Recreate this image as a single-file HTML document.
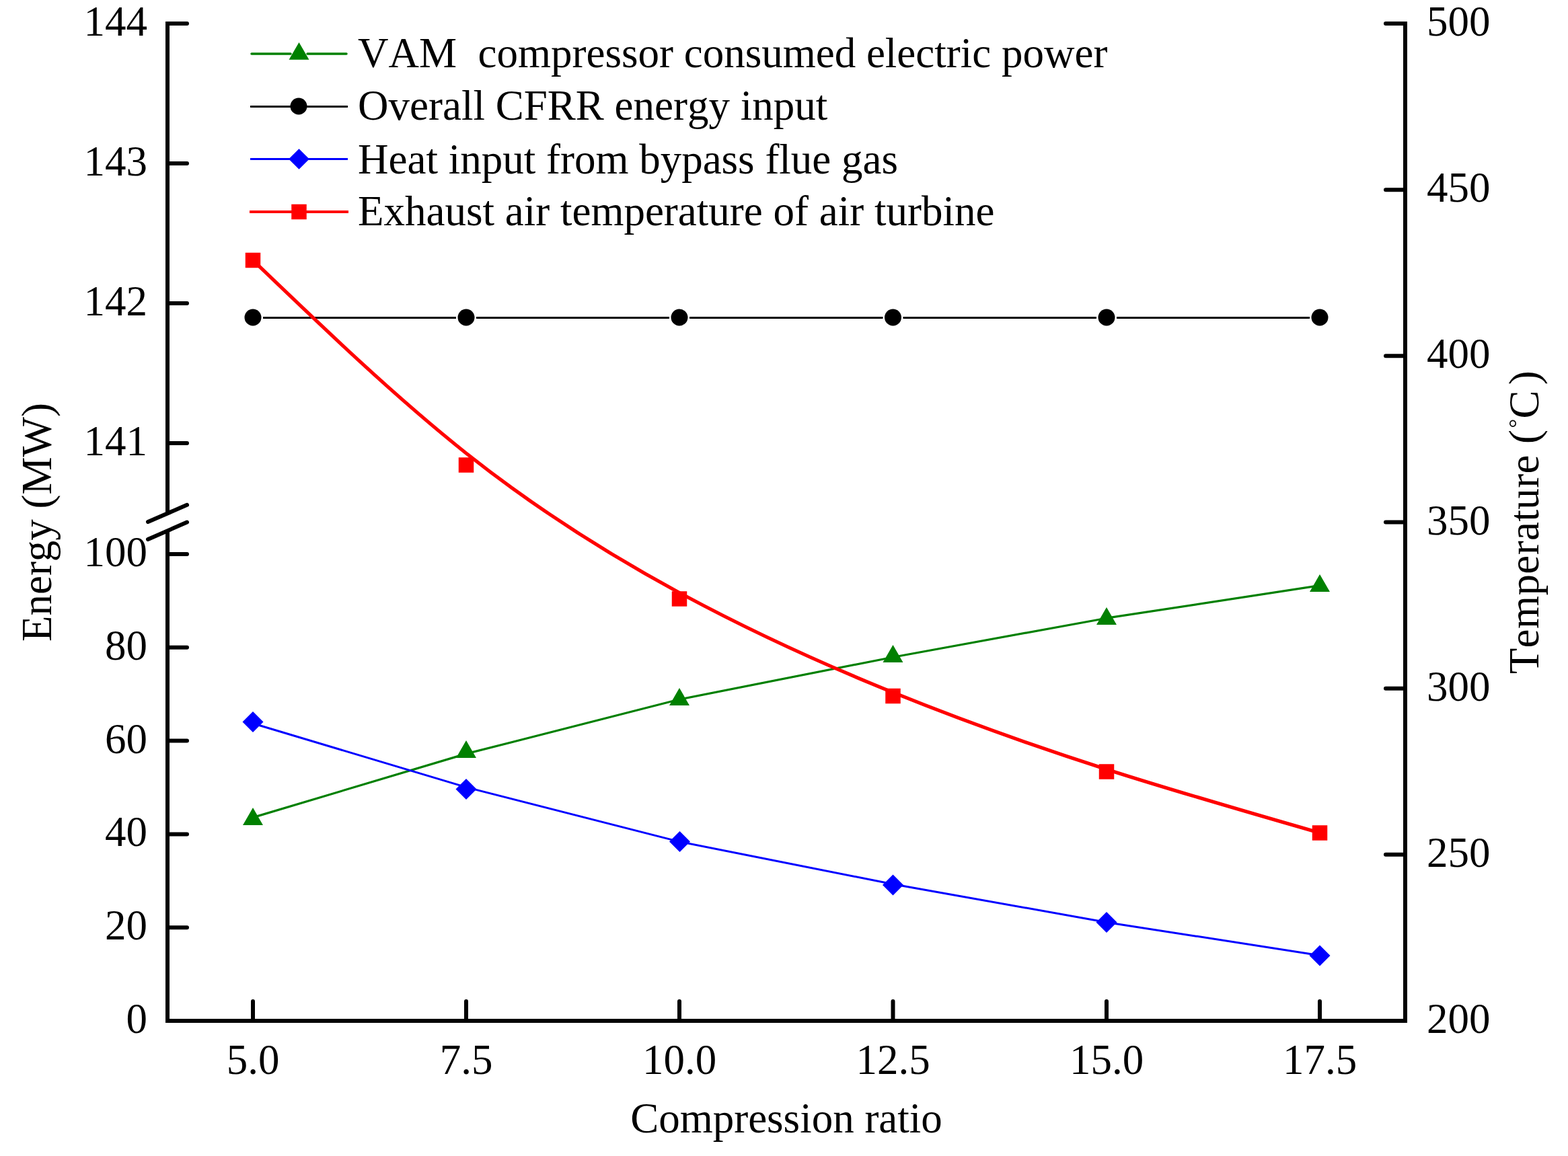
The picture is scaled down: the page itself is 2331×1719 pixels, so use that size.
<!DOCTYPE html>
<html><head><meta charset="utf-8"><title>Chart</title>
<style>html,body{margin:0;padding:0;background:#fff;}body{width:2331px;height:1719px;overflow:hidden;}svg{display:block;}</style>
</head><body>
<svg width="2331" height="1719" viewBox="0 0 2331 1719">
<rect width="2331" height="1719" fill="#fff"/>
<path d="M391,472.5H678M708,472.5H995M1025,472.5H1312.5M1342.5,472.5H1630M1660,472.5H1947" stroke="#000" stroke-width="3" fill="none"/>
<polyline points="376,1215.6 693,1120.9 1010,1040 1327.5,977.2 1645,919.2 1962,870.7" stroke="#008000" stroke-width="3.2" fill="none" stroke-linejoin="round"/>
<polyline points="376,1075.7 693,1170.6 1010,1251.6 1327.5,1314.7 1645,1371.4 1962,1420.7" stroke="#0000ff" stroke-width="3" fill="none" stroke-linejoin="round"/>
<path d="M376,387 C481.67,488.5 587.33,590 693,673.92 C798.67,757.83 904.33,824.17 1010.08,881.42 C1115.83,938.67 1221.67,986.83 1327.5,1029.67 C1433.33,1072.5 1539.17,1110 1644.92,1143.92 C1750.67,1177.83 1856.33,1208.17 1962,1238.5" stroke="#ff0000" stroke-width="5.2" fill="none"/>
<circle cx="376" cy="472" r="12.5" fill="#000"/>
<circle cx="693" cy="472" r="12.5" fill="#000"/>
<circle cx="1010" cy="472" r="12.5" fill="#000"/>
<circle cx="1327.5" cy="472" r="12.5" fill="#000"/>
<circle cx="1645" cy="472" r="12.5" fill="#000"/>
<circle cx="1962" cy="472" r="12.5" fill="#000"/>
<polygon points="376,1201 390.98,1226.95 361.02,1226.95" fill="#008000"/>
<polygon points="693,1101 707.98,1126.95 678.02,1126.95" fill="#008000"/>
<polygon points="1010,1023 1024.98,1048.95 995.02,1048.95" fill="#008000"/>
<polygon points="1327.5,959 1342.48,984.95 1312.52,984.95" fill="#008000"/>
<polygon points="1645,903 1659.98,928.95 1630.02,928.95" fill="#008000"/>
<polygon points="1962,854 1976.98,879.95 1947.02,879.95" fill="#008000"/>
<polygon points="376,1058 391.5,1073.5 376,1089 360.5,1073.5" fill="#0000ff"/>
<polygon points="693,1158 708.5,1173.5 693,1189 677.5,1173.5" fill="#0000ff"/>
<polygon points="1010.5,1236 1026,1251.5 1010.5,1267 995,1251.5" fill="#0000ff"/>
<polygon points="1327.5,1300.5 1343,1316 1327.5,1331.5 1312,1316" fill="#0000ff"/>
<polygon points="1645,1356 1660.5,1371.5 1645,1387 1629.5,1371.5" fill="#0000ff"/>
<polygon points="1962,1405.5 1977.5,1421 1962,1436.5 1946.5,1421" fill="#0000ff"/>
<rect x="364.75" y="375.75" width="22.5" height="22.5" fill="#ff0000"/>
<rect x="681.75" y="680.25" width="22.5" height="22.5" fill="#ff0000"/>
<rect x="998.75" y="879.25" width="22.5" height="22.5" fill="#ff0000"/>
<rect x="1316.25" y="1023.75" width="22.5" height="22.5" fill="#ff0000"/>
<rect x="1633.75" y="1136.25" width="22.5" height="22.5" fill="#ff0000"/>
<rect x="1950.75" y="1227.25" width="22.5" height="22.5" fill="#ff0000"/>
<path d="M249,32V763.3 M249,789.2V1521" stroke="#000" stroke-width="6" fill="none" stroke-linecap="butt"/>
<path d="M246,1518H2092" stroke="#000" stroke-width="6" fill="none" stroke-linecap="butt"/>
<path d="M2089,32V1521" stroke="#000" stroke-width="6" fill="none" stroke-linecap="butt"/>
<path d="M249,35H278 M249,243H278 M249,451H278 M249,659H278 M249,824H278 M249,962.8H278 M249,1101.6H278 M249,1240.4H278 M249,1379.2H278 M2089,35H2060 M2089,282.17H2060 M2089,529.33H2060 M2089,776.5H2060 M2089,1023.67H2060 M2089,1270.83H2060 M376,1518V1489 M693,1518V1489 M1010,1518V1489 M1327.5,1518V1489 M1645,1518V1489 M1962,1518V1489" stroke="#000" stroke-width="6" fill="none" stroke-linecap="round"/>
<path d="M220,776L278,750.8 M220,802L278,776.5" stroke="#000" stroke-width="6" fill="none" stroke-linecap="round"/>
<g font-family="'Liberation Serif','Times New Roman',serif" font-size="63" fill="#000" style="font-kerning:none"><text x="219" y="53" text-anchor="end">144</text><text x="219" y="261" text-anchor="end">143</text><text x="219" y="469" text-anchor="end">142</text><text x="219" y="677" text-anchor="end">141</text><text x="219" y="842" text-anchor="end">100</text><text x="219" y="980.8" text-anchor="end">80</text><text x="219" y="1119.6" text-anchor="end">60</text><text x="219" y="1258.4" text-anchor="end">40</text><text x="219" y="1397.2" text-anchor="end">20</text><text x="219" y="1536" text-anchor="end">0</text><text x="2121" y="53">500</text><text x="2121" y="300.17">450</text><text x="2121" y="547.33">400</text><text x="2121" y="794.5">350</text><text x="2121" y="1041.67">300</text><text x="2121" y="1288.83">250</text><text x="2121" y="1536">200</text><text x="376" y="1597" text-anchor="middle">5.0</text><text x="693" y="1597" text-anchor="middle">7.5</text><text x="1010" y="1597" text-anchor="middle">10.0</text><text x="1327.5" y="1597" text-anchor="middle">12.5</text><text x="1645" y="1597" text-anchor="middle">15.0</text><text x="1962" y="1597" text-anchor="middle">17.5</text><text x="1169" y="1684.4" text-anchor="middle">Compression ratio</text><text transform="translate(76,776.5) rotate(-90)" text-anchor="middle">Energy (MW)</text><text transform="translate(2287,776.5) rotate(-90)" text-anchor="middle" letter-spacing="0.4">Temperature (<tspan font-size="34" dy="-21" dx="2">°</tspan><tspan dy="21">C</tspan><tspan dx="8">)</tspan></text><text x="532" y="99.6" xml:space="preserve" style="white-space:pre">VAM  compressor consumed electric power</text><text x="532" y="177.8" xml:space="preserve" style="white-space:pre">Overall CFRR energy input</text><text x="532" y="257.6" xml:space="preserve" style="white-space:pre">Heat input from bypass flue gas</text><text x="532" y="335.2" xml:space="preserve" style="white-space:pre">Exhaust air temperature of air turbine</text></g>
<path d="M374,80H432 M457,80H515" stroke="#008000" stroke-width="3.5" stroke-linecap="round"/>
<polygon points="444.5,62.9 459.48,88.85 429.52,88.85" fill="#008000"/>
<path d="M372,158.5H517" stroke="#000" stroke-width="3"/>
<circle cx="444" cy="158" r="12.5" fill="#000"/>
<path d="M372,236.5H517" stroke="#0000ff" stroke-width="3"/>
<polygon points="444.5,221.2 459.8,236.5 444.5,251.8 429.2,236.5" fill="#0000ff"/>
<path d="M371,315H518" stroke="#ff0000" stroke-width="4"/>
<rect x="433.25" y="303.75" width="22.5" height="22.5" fill="#ff0000"/>
</svg>
</body></html>
